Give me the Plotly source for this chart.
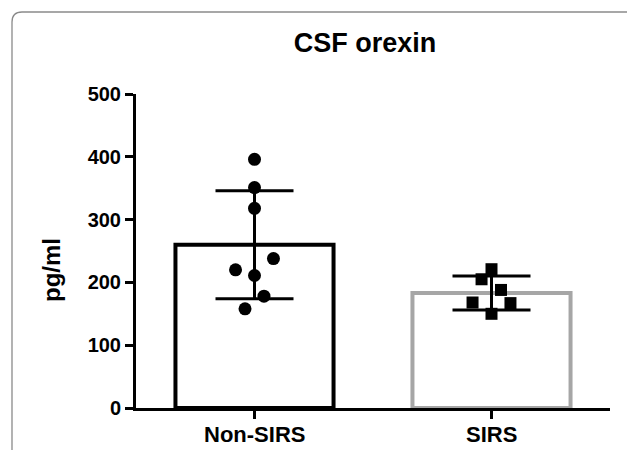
import plotly.graph_objects as go

# ---- data ----
groups = ["Non-SIRS", "SIRS"]
group_means = [260, 183]
group_sd = [86, 27]
non_sirs_values = [396, 351, 318, 238, 220, 211, 178, 158]
sirs_values = [221, 205, 188, 168, 167, 150]
y_ticks = [0, 100, 200, 300, 400, 500]

# horizontal scatter of the dots (fraction of a category)
non_sirs_jitter = [0.0, 0.0, 0.0, 0.08, -0.08, 0.0, 0.04, -0.04]
sirs_jitter = [0.0, -0.042, 0.04, -0.08, 0.08, 0.0]

W, H = 627, 450
L, R, T, B = 136, 17, 94, 42
pw, ph = W - L - R, H - T - B

FONT = "Liberation Sans, Arial, sans-serif"

fig = go.Figure()

fig.add_trace(go.Bar(
    x=[0, 1], y=group_means, width=0.667,
    marker=dict(color="white", line=dict(color=["black", "#a6a6a6"], width=4)),
    error_y=dict(type="data", array=group_sd, visible=True, color="black",
                 thickness=3, width=39),
    showlegend=False, hoverinfo="skip",
))

fig.add_trace(go.Scatter(
    x=[0 + j for j in non_sirs_jitter], y=non_sirs_values, mode="markers",
    marker=dict(symbol="circle", size=13, color="black"), showlegend=False,
))
fig.add_trace(go.Scatter(
    x=[1 + j for j in sirs_jitter], y=sirs_values, mode="markers",
    marker=dict(symbol="square", size=12, color="black"), showlegend=False,
))

# frame with rounded corner (pixel -> paper)
def px(x):
    return (x - L) / pw

def py(y):
    return (H - B - y) / ph

r = 10
x0, y0 = 12, 12
path = (f"M {px(x0)},{py(H + 5)} L {px(x0)},{py(y0 + r)} "
        f"Q {px(x0)},{py(y0)} {px(x0 + r)},{py(y0)} L {px(W + 5)},{py(y0)}")
fig.add_shape(type="path", path=path, xref="paper", yref="paper",
              line=dict(color="#8a8a8a", width=1.3), layer="below")

fig.add_annotation(
    text="pg/ml", textangle=-90, xref="paper", yref="paper",
    x=px(51), y=py(270), showarrow=False, xanchor="center", yanchor="middle",
    font=dict(family=FONT, size=24, color="black", weight="bold"),
)

# category labels placed as text just below the ticks
for i, g in enumerate(groups):
    fig.add_annotation(
        text=g, x=i, xref="x", y=py(449), yref="paper",
        xanchor="center", yanchor="bottom", showarrow=False,
        font=dict(family=FONT, size=22, color="black", weight="bold"),
    )

fig.update_layout(
    width=W, height=H,
    margin=dict(l=L, r=R, t=T, b=B, autoexpand=False),
    paper_bgcolor="white", plot_bgcolor="white",
    title=dict(text="CSF orexin", x=px(365), xref="paper", xanchor="center",
               y=1 - 43 / H, yref="container", yanchor="middle",
               font=dict(family=FONT, size=27, color="black", weight="bold")),
    xaxis=dict(range=[-0.5, 1.5], tickvals=[0, 1], showticklabels=False,
               showline=True, linecolor="black", linewidth=3,
               ticks="outside", ticklen=8, tickwidth=2.5, tickcolor="black",
               showgrid=False, zeroline=False, automargin=False),
    yaxis=dict(range=[0, 500], tickvals=y_ticks,
               showline=True, linecolor="black", linewidth=3,
               ticks="outside", ticklen=8, tickwidth=3, tickcolor="black",
               showgrid=False, zeroline=False, automargin=False,
               tickfont=dict(family=FONT, size=20, color="black", weight="bold")),
)

fig.write_html(
    "out.html",
    config={"responsive": False, "displayModeBar": False},
    post_script="document.body.style.margin='0';document.body.style.overflow='hidden';",
)
